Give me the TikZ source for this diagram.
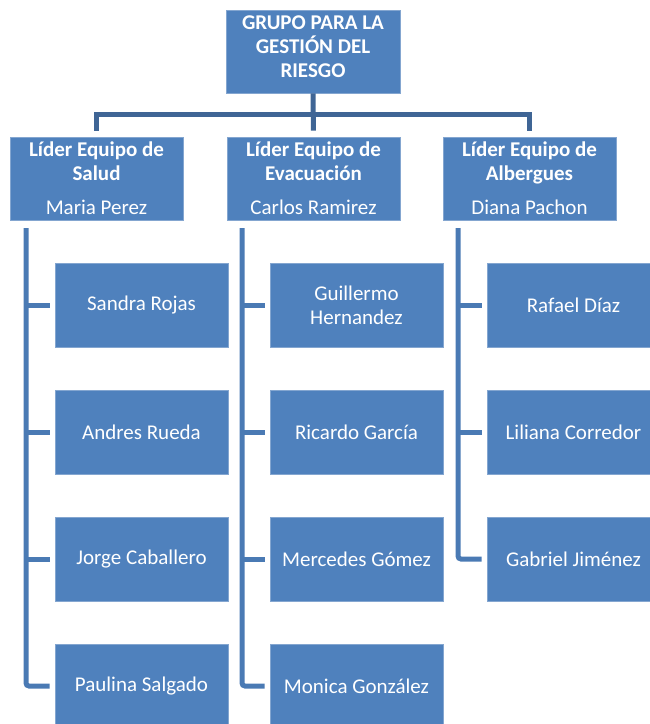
\documentclass[tikz,border=0pt]{standalone}
\usepackage{fontspec}
\setmainfont{Carlito}
\definecolor{boxblue}{HTML}{4F81BD}
\definecolor{boxedge}{HTML}{84A6D0}
\definecolor{topline}{HTML}{3F6595}
\definecolor{sideline}{HTML}{4A7AB4}
\tikzset{
  orgbox/.style={draw=boxedge, fill=boxblue, line width=0.8pt, text=white,
    minimum width=173pt, minimum height=84pt, inner sep=0pt, align=center,
    font=\fontsize{21}{24}\selectfont},
  toplink/.style={draw=topline, line width=5pt},
  sidelink/.style={draw=sideline, line width=5pt, rounded corners=3pt},
}
\begin{document}
\begin{tikzpicture}[x=1pt,y=-1pt]
\useasboundingbox (0,0) rectangle (649,724);
% top
\node[orgbox, minimum width=174pt, minimum height=83pt, font=\fontsize{21}{24}\selectfont\bfseries]
  (top) at (313,51.5) {GRUPO PARA LA\\GESTIÓN DEL\\RIESGO\\[-15pt]\mbox{}};
% leaders
\node[orgbox, minimum height=83pt] (l1) at (96.5,178.5)
  {\textbf{Líder Equipo de}\\\textbf{Salud}\\[10pt]Maria Perez};
\node[orgbox, minimum height=83pt] (l2) at (313.5,178.5)
  {\textbf{Líder Equipo de}\\\textbf{Evacuación}\\[10pt]Carlos Ramirez};
\node[orgbox, minimum height=83pt] (l3) at (529.5,178.5)
  {\textbf{Líder Equipo de}\\\textbf{Albergues}\\[10pt]Diana Pachon};
% members
\node[orgbox] (a1) at (141.5,305) {Sandra Rojas};
\node[orgbox] (a2) at (141.5,432) {Andres Rueda};
\node[orgbox] (a3) at (141.5,559) {Jorge Caballero};
\node[orgbox] (a4) at (141.5,686) {Paulina Salgado};
\node[orgbox] (b1) at (356.5,305) {Guillermo\\Hernandez};
\node[orgbox] (b2) at (356.5,432) {Ricardo García};
\node[orgbox] (b3) at (356.5,559) {Mercedes Gómez};
\node[orgbox] (b4) at (356.5,686) {Monica González};
\node[orgbox] (c1) at (573.5,305) {Rafael Díaz};
\node[orgbox] (c2) at (573.5,432) {Liliana Corredor};
\node[orgbox] (c3) at (573.5,559) {Gabriel Jiménez};
% top connectors
\draw[toplink, shorten >=6pt] (top.south) -- (l2.north);
\draw[toplink, shorten <=6pt, shorten >=6pt, line join=miter] (l1.north) -- ++(0,-22) -| (l3.north);
% side connectors
\coordinate (sa) at (26,228);
\coordinate (sb) at (242,228);
\coordinate (sc) at (458,228);
\draw[sidelink, shorten >=5pt] (sa) |- (a4.west);
\foreach \n in {a1,a2,a3} \draw[sidelink, shorten >=5pt] (sa |- \n.west) -- (\n.west);
\draw[sidelink, shorten >=5pt] (sb) |- (b4.west);
\foreach \n in {b1,b2,b3} \draw[sidelink, shorten >=5pt] (sb |- \n.west) -- (\n.west);
\draw[sidelink, shorten >=5pt] (sc) |- (c3.west);
\foreach \n in {c1,c2} \draw[sidelink, shorten >=5pt] (sc |- \n.west) -- (\n.west);
\end{tikzpicture}
\end{document}
